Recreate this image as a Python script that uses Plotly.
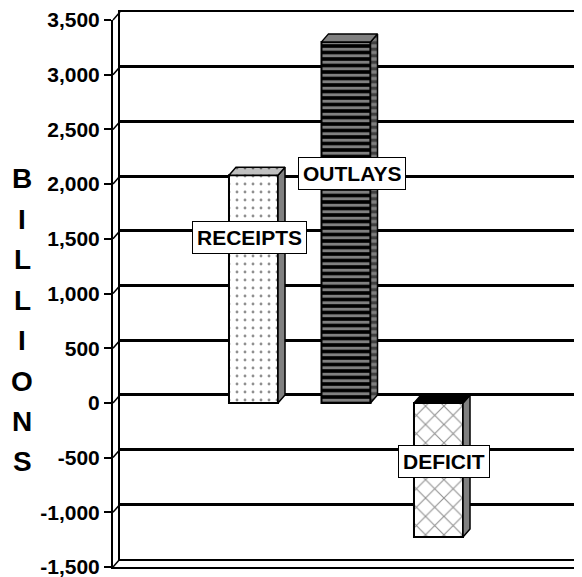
import plotly.graph_objects as go

categories = ["RECEIPTS", "OUTLAYS", "DEFICIT"]
values = [2080, 3300, -1225]
tick_values = [-1500, -1000, -500, 0, 500, 1000, 1500, 2000, 2500, 3000, 3500]
tick_labels = [f"{v:,}" for v in tick_values]
axis_title = "BILLIONS"

W, H = 582, 577
PAGE = 8  # default body margin of the html page
Y_MIN, Y_MAX = -1500, 3500
FONT = "Arial, Liberation Sans, sans-serif"

# screen positions: front plane holds bars and tick labels, back wall holds the grid
FX0, FX1, FY0, FY1 = 113, 577, 20, 567
DX, DY = 7, 8
BX0, BX1, BY0, BY1 = FX0 + DX, FX1 + DX, FY0 - DY, FY1 - DY

UNIT_PX = 92.5
x_start = -(253.5 - FX0) / UNIT_PX
X_RANGE = [x_start, x_start + (FX1 - FX0) / UNIT_PX]

dx_u = DX / UNIT_PX
dy_u = DY * (Y_MAX - Y_MIN) / (FY1 - FY0)
half_w = 0.265


def px(p):
    return (p - PAGE) / W


def py(p):
    return 1 - (p - PAGE) / H


front_style = [
    dict(bg="white", shape=".", fg="#202020", size=8, solidity=0.1),
    dict(bg="black", shape="-", fg="white", size=6.5, solidity=0.45),
    dict(bg="white", shape="x", fg="#202020", size=13, solidity=0.16),
]
side_style = [
    dict(bg="#808080"),
    dict(bg="#808080", shape="-", fg="black", size=6.5, solidity=0.5),
    dict(bg="#808080"),
]
top_style = [
    dict(bg="#c0c0c0", shape=".", fg="black", size=8, solidity=0.1),
    dict(bg="#808080"),
    dict(bg="black"),
]


def pattern(st):
    if "shape" not in st:
        return dict(shape="")
    return dict(shape=st["shape"], fgcolor=st["fg"], size=st["size"],
                solidity=st["solidity"], fillmode="overlay")


fig = go.Figure()

# side and top faces computed from each bar's value
for i, v in enumerate(values):
    lo, hi = min(0, v), max(0, v)
    xr = i + half_w
    xl = i - half_w
    faces = [
        ([xr, xr + dx_u, xr + dx_u, xr, xr], [lo, lo + dy_u, hi + dy_u, hi, lo], side_style[i]),
        ([xl, xr, xr + dx_u, xl + dx_u, xl], [hi, hi, hi + dy_u, hi + dy_u, hi], top_style[i]),
    ]
    for fx, fy, st in faces:
        fig.add_trace(go.Scatter(
            x=fx, y=fy, mode="lines", fill="toself", fillcolor=st["bg"],
            fillpattern=pattern(st), line=dict(color="black", width=1.5),
            hoverinfo="skip", showlegend=False, xaxis="x2", yaxis="y2"))

for i, (name, v) in enumerate(zip(categories, values)):
    st = front_style[i]
    fig.add_trace(go.Bar(
        x=[i], y=[v], width=2 * half_w, name=name, showlegend=False,
        xaxis="x2", yaxis="y2",
        marker=dict(color=st["bg"], line=dict(color="black", width=2), pattern=pattern(st)),
    ))

# invisible trace so the back wall axes get drawn
fig.add_trace(go.Scatter(x=[0], y=[0], mode="markers", marker=dict(opacity=0),
                         hoverinfo="skip", showlegend=False))

fig.update_layout(
    width=W, height=H,
    margin=dict(l=0, r=0, t=0, b=0, autoexpand=False),
    paper_bgcolor="white", plot_bgcolor="rgba(0,0,0,0)",
    barmode="overlay",
    xaxis=dict(domain=[px(BX0), min(1, px(BX1))], range=X_RANGE, showgrid=False, zeroline=False,
               showticklabels=False, showline=True, mirror=True, linecolor="black", linewidth=2,
               automargin=False),
    yaxis=dict(domain=[py(BY1), py(BY0)], range=[Y_MIN, Y_MAX], tickvals=tick_values,
               showticklabels=False, showgrid=True, gridcolor="black", gridwidth=2.5,
               zeroline=False, showline=True, linecolor="black", linewidth=2, automargin=False),
    xaxis2=dict(domain=[px(FX0), px(FX1)], range=X_RANGE, anchor="y2", showgrid=False,
                zeroline=False, showticklabels=False, showline=True, linecolor="black",
                linewidth=2, automargin=False),
    yaxis2=dict(domain=[py(FY1), py(FY0)], range=[Y_MIN, Y_MAX], anchor="x2",
                tickvals=tick_values, ticktext=tick_labels, showgrid=False, zeroline=False,
                showline=True, linecolor="black", linewidth=2, automargin=False,
                ticks="outside", ticklen=7, tickwidth=1.5, tickcolor="black",
                tickfont=dict(family=FONT, size=21, color="black", weight="bold")),
)

# left wall and floor edges joining front plane to back wall
shapes = []
for v in tick_values:
    yf = FY1 - (v - Y_MIN) / (Y_MAX - Y_MIN) * (FY1 - FY0)
    shapes.append(dict(type="line", xref="paper", yref="paper", x0=px(FX0), y0=py(yf),
                       x1=px(BX0), y1=py(yf - DY), line=dict(color="black", width=1.5)))
shapes.append(dict(type="line", xref="paper", yref="paper", x0=px(FX1), y0=py(FY1),
                   x1=px(BX1), y1=py(BY1), line=dict(color="black", width=1.5)))
fig.update_layout(shapes=shapes)

# bar labels
label_pos = [(-0.04, 1510), (1.06, 2100), (2.06, -540)]
for name, (xv, yv) in zip(categories, label_pos):
    fig.add_annotation(x=xv, y=yv, xref="x2", yref="y2", text=name,
                       showarrow=False, bgcolor="white", bordercolor="black", borderwidth=1,
                       borderpad=4, font=dict(family=FONT, size=21, color="black", weight="bold"))

# stacked axis title
for k, ch in enumerate(axis_title):
    fig.add_annotation(x=px(22), y=py(179 + k * 40.4), xref="paper", yref="paper", text=ch,
                       xanchor="center", yanchor="middle", showarrow=False,
                       font=dict(family=FONT, size=28, color="black", weight="bold"))

fig.write_html("out.html")
